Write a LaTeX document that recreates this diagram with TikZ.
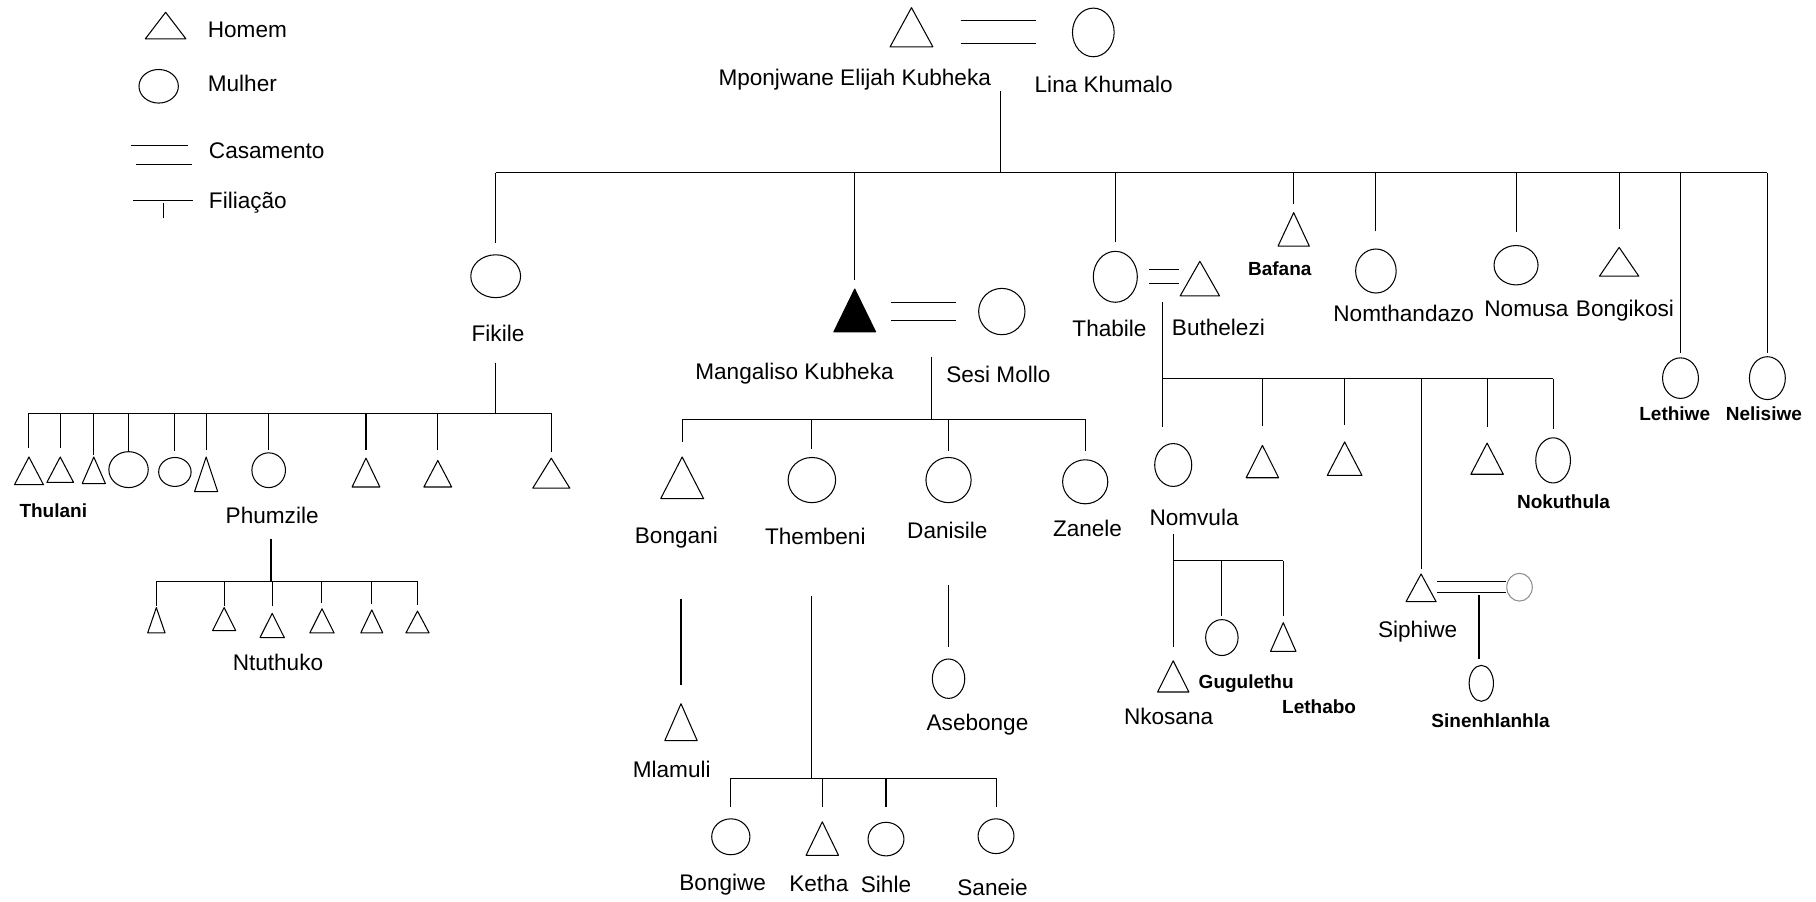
\documentclass[tikz,border=0pt]{standalone}
\usepackage{fontspec}
\setmainfont{Liberation Sans}
\usetikzlibrary{shapes.geometric}

\tikzset{
  homem/.style={rectangle, inner sep=0pt, path picture={
      \draw[line join=round, #1] ([shift={(0.5pt,0.5pt)}]path picture bounding box.south west)
        -- ([yshift=-0.6pt]path picture bounding box.north)
        -- ([shift={(-0.5pt,0.5pt)}]path picture bounding box.south east) -- cycle;}},
  homem/.default={},
  mulher/.style={ellipse, draw, inner sep=0pt},
  sz/.style 2 args={minimum width=#1pt, minimum height=#2pt},
  nome/.style={font=\fontsize{19.5}{22}\selectfont, inner sep=0pt},
  nomeb/.style={font=\fontsize{16.4}{19}\selectfont\bfseries, inner sep=0pt},
  casamento/.style={double, double distance=#1}
}

\begin{document}
\begin{tikzpicture}[x=1pt, y=-1pt, line width=0.9pt]
  \useasboundingbox (0,0) rectangle (1568,778);

  % Legenda
  \node[homem, sz={36}{24}] (lgh) at (143,22) {};
  \node[nome, anchor=west] (lght) at (179,26) {Homem};
  \node[mulher, sz={34}{29}] (lgm) at (137,74.5) {};
  \node[nome, anchor=west] (lgmt) at (179,72) {Mulher};
  \node[nome, anchor=west] (lgct) at (180,130) {Casamento};
  \draw (113,126) -- (162,126);
  \draw (117,142) -- (166,142);
  \node[nome, anchor=west] (lgft) at (180,175) {Filiação};
  \draw (115,173) -- (167,173);
  \draw (141,175) -- (141,188);

  % Mponjwane e Lina
  \node[homem, sz={38}{35}] (mponj) at (787,23.5) {};
  \node[mulher, sz={36}{42}] (lina) at (944,28) {};
  \draw[casamento=19pt, shorten <=23pt, shorten >=31pt] (mponj.east |- lina.west) -- (lina.west);
  \node[nome] (lmponj) at (738,69) {Mponjwane Elijah Kubheka};
  \node[nome] (llina) at (953,73) {Lina Khumalo};
  \coordinate (c0) at (864,79);
  \coordinate (bar0) at (0,149);
  \draw (c0) -- (c0 |- bar0);

  % filhos
  \node[mulher, sz={43}{37}] (fikile) at (428,238.5) {};
  \node[homem=fill, sz={37}{38}] (mangal) at (738,268) {};
  \node[mulher, sz={40}{40}] (sesi) at (865,269) {};
  \node[mulher, sz={38}{44}] (thabile) at (963,239) {};
  \node[homem, sz={35}{31}] (buth) at (1036,240.5) {};
  \node[homem, sz={28}{30}] (bafana) at (1117,198) {};
  \node[mulher, sz={35}{38}] (nomth) at (1188,234) {};
  \node[mulher, sz={38}{34}] (nomusa) at (1309,229) {};
  \node[homem, sz={35}{26}] (bongik) at (1398,226) {};
  \node[mulher, sz={31}{35}] (lethiwe) at (1451,326.5) {};
  \node[mulher, sz={31}{37}] (nelis) at (1526,326.5) {};
  \draw (fikile.north |- bar0) -- (nelis.north |- bar0);
  \foreach \n/\g in {fikile/10, mangal/7, thabile/8, bafana/6, nomth/15, nomusa/11, bongik/15, lethiwe/4, nelis/3}
    \draw[shorten <=\g pt] (\n.north) -- (\n.north |- bar0);
  \draw[casamento=15pt, shorten <=12pt, shorten >=19pt] (mangal.east |- sesi.west) -- (sesi.west);
  \draw[casamento=11pt, shorten <=10pt] (thabile.east) -- (buth.west |- thabile.east);
  \node[nome] (lfikile) at (430,288) {Fikile};
  \node[nome] (lmangal) at (686,323) {Mangaliso Kubheka};
  \node[nome] (lsesi) at (862,323) {Sesi Mollo};
  \node[nome] (lthabile) at (958,284) {Thabile};
  \node[nome] (lbuth) at (1052,283) {Buthelezi};
  \node[nomeb] (lbafana) at (1105,232) {Bafana};
  \node[nome] (lnomth) at (1212,271) {Nomthandazo};
  \node[nome] (lnomusa) at (1318,267) {Nomusa};
  \node[nome] (lbongik) at (1403,268) {Bongikosi};
  \node[nomeb] (llethiwe) at (1446,357) {Lethiwe};
  \node[nomeb] (lnelis) at (1523,357) {Nelisiwe};

  % Fikile
  \coordinate (f0) at (428,313);
  \coordinate (bar1) at (0,357);
  \draw (f0) -- (f0 |- bar1);
  \node[homem, sz={26}{25}] (thulani) at (25,406.5) {};
  \node[homem, sz={24}{23}] (fk2) at (52,405.5) {};
  \node[homem, sz={21}{24}] (fk3) at (81,406) {};
  \node[mulher, sz={34}{31}] (fk4) at (111,405.5) {};
  \node[mulher, sz={28}{25}] (fk5) at (151,407.5) {};
  \node[homem, sz={21}{31}] (fk6) at (178,409.5) {};
  \node[mulher, sz={29}{30}] (phumzile) at (232,406) {};
  \node[homem, sz={25}{26}] (fk8) at (316,408) {};
  \node[homem, sz={25}{24}] (fk9) at (378,409) {};
  \node[homem, sz={33}{27}] (fk10) at (476,408.5) {};
  \draw (thulani.north |- bar1) -- (fk10.north |- bar1);
  \foreach \n/\g in {thulani/7, fk2/7, fk3/1, fk4/0, fk5/5, fk6/5, phumzile/2, fk8/6, fk9/8, fk10/4}
    \draw[shorten <=\g pt] (\n.north) -- (\n.north |- bar1);
  \node[nomeb] (lthulani) at (46,441) {Thulani};
  \node[nome] (lphumzile) at (235,445) {Phumzile};

  % Phumzile
  \coordinate (p0) at (234,465);
  \coordinate (bar2) at (0,502);
  \draw (p0) -- (p0 |- bar2);
  \node[homem, sz={16}{23}] (pz1) at (135,535.5) {};
  \node[homem, sz={21}{21}] (pz2) at (193.5,534.5) {};
  \node[homem, sz={22}{22}] (ntuthuko) at (235,540) {};
  \node[homem, sz={22}{22}] (pz4) at (278,536) {};
  \node[homem, sz={20}{21}] (pz5) at (321,536.5) {};
  \node[homem, sz={21}{20}] (pz6) at (360.5,537) {};
  \draw (pz1.north |- bar2) -- (pz6.north |- bar2);
  \foreach \n/\g in {pz1/0, pz2/0, ntuthuko/5, pz4/4, pz5/4, pz6/4}
    \draw[shorten <=\g pt] (\n.north) -- (\n.north |- bar2);
  \node[nome] (lntuthuko) at (240,572) {Ntuthuko};

  % Mangaliso e Sesi
  \coordinate (m0) at (804,308);
  \coordinate (bar3) at (0,362);
  \draw (m0) -- (m0 |- bar3);
  \node[homem, sz={38}{37}] (bongani) at (589,412.5) {};
  \node[mulher, sz={41}{39}] (thembeni) at (701,414.5) {};
  \node[mulher, sz={39}{39}] (danisile) at (819,414.5) {};
  \node[mulher, sz={39}{38}] (zanele) at (937,416) {};
  \draw (bongani.north |- bar3) -- (zanele.north |- bar3);
  \foreach \n/\g in {bongani/12, thembeni/7, danisile/5, zanele/7}
    \draw[shorten <=\g pt] (\n.north) -- (\n.north |- bar3);
  \node[nome] (lbongani) at (584,464) {Bongani};
  \node[nome] (lthembeni) at (704,463) {Thembeni};
  \node[nome] (ldanisile) at (818,458) {Danisile};
  \node[nome] (lzanele) at (939,456) {Zanele};

  \coordinate (b0) at (588,517);
  \node[homem, sz={29}{33}] (mlamuli) at (588,623.5) {};
  \draw[shorten >=15pt] (b0) -- (mlamuli.north);
  \node[nome] (lmlamuli) at (580,664) {Mlamuli};

  \coordinate (d0) at (819,505);
  \node[mulher, sz={28}{34}] (asebonge) at (819,586) {};
  \draw[shorten >=10pt] (d0) -- (asebonge.north);
  \node[nome] (lasebonge) at (844,626) {Asebonge};

  \coordinate (e0) at (701,515);
  \coordinate (bar4) at (0,672);
  \draw (e0) -- (e0 |- bar4);
  \node[mulher, sz={33}{31}] (bongiwe) at (631,722.5) {};
  \node[homem, sz={29}{30}] (ketha) at (710,724) {};
  \node[mulher, sz={31}{29}] (sihle) at (765,724.5) {};
  \node[mulher, sz={31}{30}] (saneie) at (860,722) {};
  \draw (bongiwe.north |- bar4) -- (saneie.north |- bar4);
  \foreach \n/\g in {bongiwe/10, ketha/12, sihle/13, saneie/10}
    \draw[shorten <=\g pt] (\n.north) -- (\n.north |- bar4);
  \node[nome] (lbongiwe) at (624,764) {Bongiwe};
  \node[nome] (lketha) at (707,763) {Ketha};
  \node[nome] (lsihle) at (765,764) {Sihle};
  \node[nome] (lsaneie) at (857,766) {Saneie};

  % Thabile e Buthelezi
  \coordinate (t0) at (1004,261);
  \coordinate (bar5) at (0,327);
  \draw (t0) -- (t0 |- bar5);
  \node[mulher, sz={32}{37}] (nomvula) at (1013,401.5) {};
  \node[homem, sz={29}{29}] (tb2) at (1090,398.5) {};
  \node[homem, sz={31}{30}] (tb3) at (1161,396) {};
  \node[homem, sz={27}{25}] (siphiwe) at (1227,507.5) {};
  \node[homem, sz={29}{28}] (tb5) at (1284,396) {};
  \node[mulher, sz={30}{39}] (nokuthula) at (1341,397.5) {};
  \draw (t0 |- bar5) -- (nokuthula.north |- bar5);
  \draw[shorten <=14pt] (t0 |- nomvula.north) -- (t0 |- bar5);
  \foreach \n/\g in {tb2/16, tb3/14, siphiwe/3, tb5/13, nokuthula/7}
    \draw[shorten <=\g pt] (\n.north) -- (\n.north |- bar5);
  \node[nome] (lnomvula) at (1031,447) {Nomvula};
  \node[nomeb] (lnokuthula) at (1350,433) {Nokuthula};
  \node[nome] (lsiphiwe) at (1224,545) {Siphiwe};

  % Siphiwe
  \node[mulher, draw=black!45, sz={22}{24}] (esposa) at (1312,507) {};
  \draw[casamento=9pt] (siphiwe.east |- esposa.west) -- (esposa.west);
  \coordinate (s0) at (1277,514);
  \node[mulher, sz={21}{31}] (sinen) at (1279,590) {};
  \draw[shorten >=5pt] (s0) -- (s0 |- sinen.north);
  \node[nomeb] (lsinen) at (1287,622) {Sinenhlanhla};

  % Nomvula
  \coordinate (n0) at (1013,461);
  \coordinate (bar6) at (0,484);
  \node[homem, sz={28}{28}] (nkosana) at (1013,584) {};
  \node[mulher, sz={28}{31}] (gugulethu) at (1055,550.5) {};
  \node[homem, sz={23}{26}] (lethabo) at (1108,550) {};
  \draw[shorten >=11pt] (n0) -- (nkosana.north);
  \draw (n0 |- bar6) -- (lethabo.north |- bar6);
  \foreach \n/\g in {gugulethu/3, lethabo/5}
    \draw[shorten <=\g pt] (\n.north) -- (\n.north |- bar6);
  \node[nome] (lnkosana) at (1009,619) {Nkosana};
  \node[nomeb] (lgugulethu) at (1076,590) {Gugulethu};
  \node[nomeb] (llethabo) at (1139,610) {Lethabo};
\end{tikzpicture}
\end{document}
